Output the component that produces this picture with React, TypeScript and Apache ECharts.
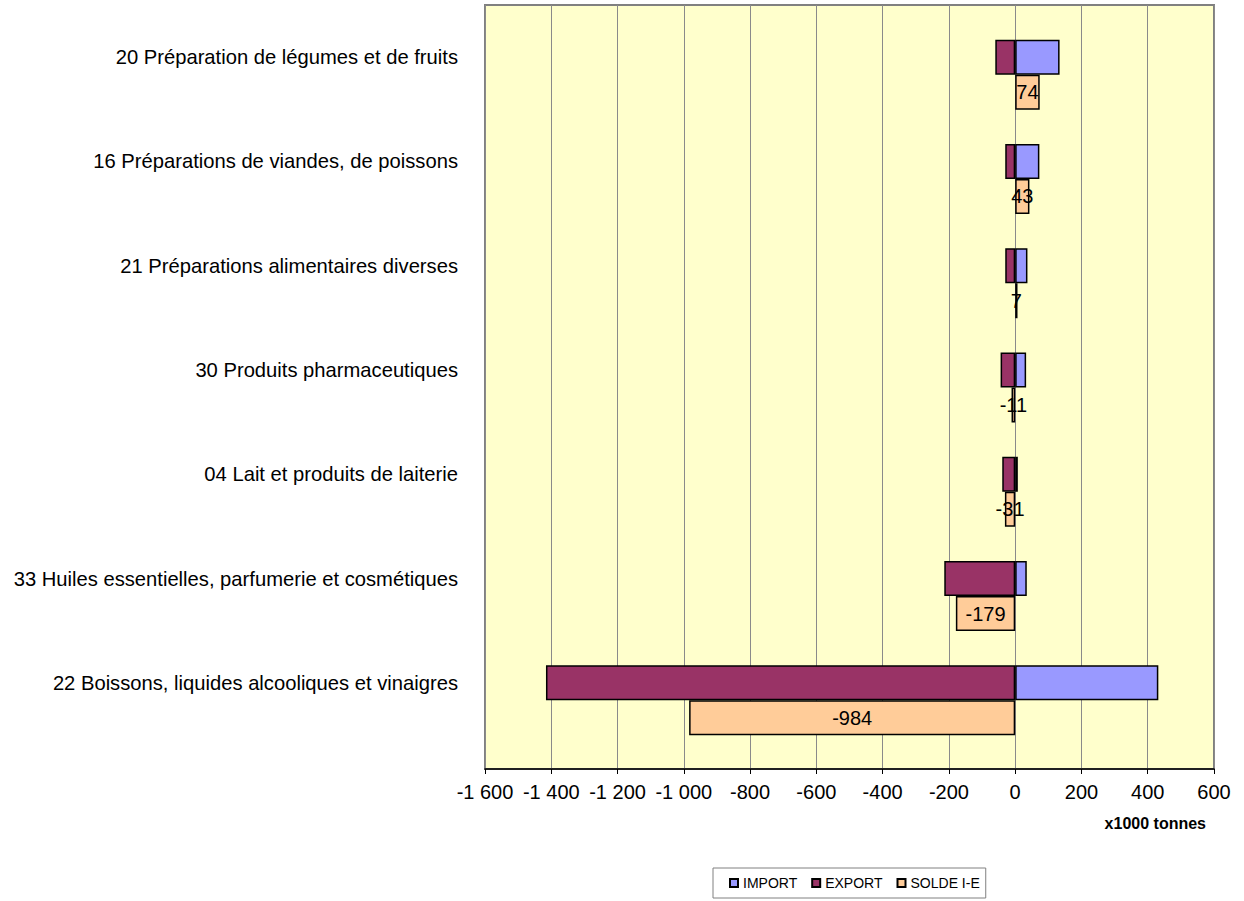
import React, { useEffect, useRef } from "react";
import * as echarts from "echarts";

const categories = [
  "20 Préparation de légumes et de fruits",
  "16 Préparations de viandes, de poissons",
  "21 Préparations alimentaires diverses",
  "30 Produits pharmaceutiques",
  "04 Lait et produits de laiterie",
  "33 Huiles essentielles, parfumerie et cosmétiques",
  "22 Boissons, liquides alcooliques et vinaigres",
];
const importVals = [134, 73, 37, 33, 8, 35, 432];
const exportVals = [60, 30, 30, 44, 39, 214, 1416];
const soldeVals = [74, 43, 7, -11, -31, -179, -984];
const legendNames = ["IMPORT", "EXPORT", "SOLDE I-E"];
const unitLabel = "x1000 tonnes";

const FONT = "'Liberation Sans', Arial, sans-serif";

function fmt(v: number): string {
  const s = Math.abs(v)
    .toString()
    .replace(/\B(?=(\d{3})+(?!\d))/g, " ");
  return (v < 0 ? "-" : "") + s;
}

export default function App() {
  const ref = useRef<HTMLDivElement>(null);
  useEffect(() => {
    if (!ref.current) return;
    const chart = echarts.init(ref.current, null, { renderer: "svg" });
    const hiddenX = (idx: number) => ({
      gridIndex: idx,
      type: "value" as const,
      min: -1600,
      max: 600,
      interval: 200,
      show: false,
    });
    chart.setOption({
      animation: false,
      textStyle: { fontFamily: FONT },
      grid: [
        {
          left: 485,
          top: 5,
          width: 729,
          height: 764,
          show: true,
          backgroundColor: "#FFFFCC",
          borderColor: "#808080",
          borderWidth: 2,
        },
        { left: 485, top: 5, width: 729, height: 730 },
        { left: 485, top: 40, width: 729, height: 730 },
      ],
      xAxis: [
        {
          gridIndex: 0,
          type: "value",
          min: -1600,
          max: 600,
          interval: 200,
          axisLine: { show: true, lineStyle: { color: "#000", width: 1.5 } },
          axisTick: { show: true, length: 5, lineStyle: { color: "#000" } },
          axisLabel: {
            fontSize: 20,
            color: "#000",
            margin: 13,
            fontFamily: FONT,
            formatter: (v: number) => fmt(v),
          },
          splitLine: { show: true, lineStyle: { color: "#8a8a8a", width: 1 } },
        },
        hiddenX(1),
        hiddenX(2),
      ],
      yAxis: [
        { gridIndex: 0, type: "value", min: 0, max: 1, show: false },
        {
          gridIndex: 1,
          type: "category",
          data: categories,
          inverse: true,
          axisLine: { show: false },
          axisTick: { show: false },
          splitLine: { show: false },
          axisLabel: { fontSize: 20.2, color: "#000", margin: 27, fontFamily: FONT },
        },
        {
          gridIndex: 2,
          type: "category",
          data: categories,
          inverse: true,
          show: false,
        },
      ],
      legend: {
        data: legendNames,
        left: 713,
        top: 868,
        orient: "horizontal",
        icon: "rect",
        itemWidth: 8,
        itemHeight: 8,
        itemGap: 14,
        padding: [8, 6, 8, 16],
        borderColor: "#808080",
        borderWidth: 1,
        textStyle: { fontSize: 14, color: "#000", fontFamily: FONT },
      },
      series: [
        {
          name: legendNames[0],
          type: "bar",
          xAxisIndex: 1,
          yAxisIndex: 1,
          stack: "ie",
          barWidth: 35,
          data: importVals,
          itemStyle: { color: "#9999FF", borderColor: "#000", borderWidth: 1.5 },
        },
        {
          name: legendNames[1],
          type: "bar",
          xAxisIndex: 1,
          yAxisIndex: 1,
          stack: "ie",
          barWidth: 35,
          data: exportVals.map((v) => -v),
          itemStyle: { color: "#993366", borderColor: "#000", borderWidth: 1.5 },
        },
        {
          name: legendNames[2],
          type: "bar",
          xAxisIndex: 2,
          yAxisIndex: 2,
          barWidth: 35,
          data: soldeVals,
          itemStyle: { color: "#FFCC99", borderColor: "#000", borderWidth: 1.5 },
          label: {
            show: true,
            position: "inside",
            color: "#000",
            fontSize: 20,
            fontFamily: FONT,
            formatter: (p: any) => fmt(p.value),
          },
        },
      ],
      graphic: [
        {
          type: "text",
          x: 1206,
          y: 823,
          style: {
            text: unitLabel,
            font: `bold 16px ${FONT}`,
            fill: "#000",
            textAlign: "right",
            textVerticalAlign: "middle",
          },
        },
      ],
    });
    return () => chart.dispose();
  }, []);
  return (
    <div
      ref={ref}
      style={{ position: "absolute", left: 0, top: 0, width: 1244, height: 901 }}
    />
  );
}
